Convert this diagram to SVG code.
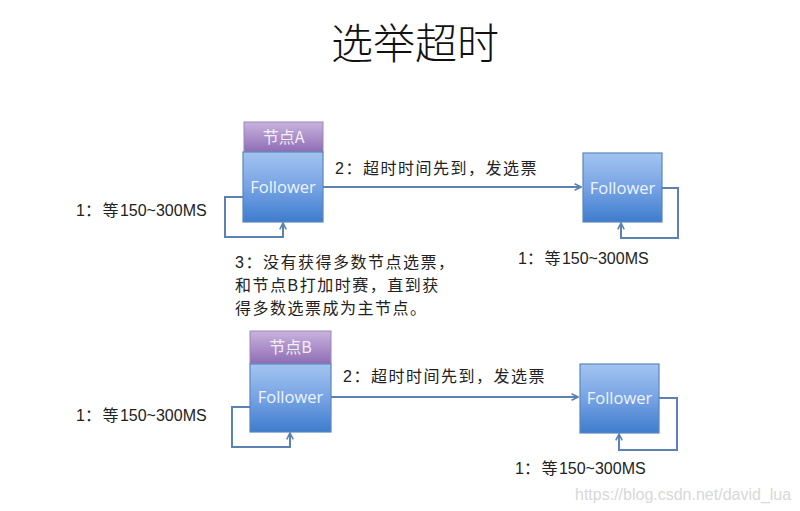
<svg xmlns="http://www.w3.org/2000/svg" width="800" height="511" viewBox="0 0 800 511">
<defs>
<linearGradient id="gBlue" x1="0" y1="0" x2="0" y2="1">
<stop offset="0" stop-color="#a3c4f0"/>
<stop offset="0.5" stop-color="#77a3e4"/>
<stop offset="1" stop-color="#3e7ccd"/>
</linearGradient>
<linearGradient id="gPurple" x1="0" y1="0" x2="0" y2="1">
<stop offset="0" stop-color="#c9b3de"/>
<stop offset="1" stop-color="#8e6cb4"/>
</linearGradient>
<marker id="arr" viewBox="0 0 10 10" refX="9" refY="5" markerWidth="8" markerHeight="8" markerUnits="userSpaceOnUse" orient="auto">
<path d="M1,1 L9,5 L1,9" fill="none" stroke="#5b82b3" stroke-width="2"/>
</marker>
</defs>
<style>
.txt{font-family:"Liberation Sans","Noto Sans CJK SC",sans-serif;fill:#222;font-size:16px}
.cj{letter-spacing:1.5px}
.title{font-family:"Noto Sans CJK SC",sans-serif;font-size:42px;font-weight:300;fill:#111}
.fol{fill:url(#gBlue);stroke:#5a86bd;stroke-width:1.2}
.hdr{fill:url(#gPurple);stroke:#9a86b8;stroke-width:1}
.ftxt{font-family:"Open Sans","Liberation Sans",sans-serif;font-size:16.5px;fill:#eef4ff;text-anchor:middle}
.htxt{font-family:"Noto Sans CJK SC",sans-serif;font-size:16px;fill:#f4eefa;text-anchor:middle}
.con{fill:none;stroke:#5b82b3;stroke-width:2;marker-end:url(#arr)}
.wm{font-family:"Liberation Sans",sans-serif;font-size:16px;fill:#d8d8d8}
</style>
<rect width="800" height="511" fill="#fff"/>
<text class="title" x="415" y="59" text-anchor="middle">选举超时</text>

<g id="nodeA">
<rect class="hdr" x="244" y="122" width="79" height="30"/>
<text class="htxt" x="283.5" y="143">节点A</text>
<rect class="fol" x="243" y="152" width="80" height="70"/>
<text class="ftxt" x="283" y="193">Follower</text>
</g>
<g id="nodeA2">
<rect class="fol" x="583" y="153" width="79" height="69"/>
<text class="ftxt" x="622.5" y="194">Follower</text>
</g>
<g id="nodeB">
<rect class="hdr" x="250" y="331" width="81" height="33"/>
<text class="htxt" x="290.5" y="353">节点B</text>
<rect class="fol" x="250" y="364" width="81" height="68"/>
<text class="ftxt" x="290.5" y="403">Follower</text>
</g>
<g id="nodeB2">
<rect class="fol" x="580" y="364" width="79" height="69"/>
<text class="ftxt" x="619.5" y="404">Follower</text>
</g>

<g id="connectors">
<path class="con" d="M323,187 L581,187"/>
<path class="con" d="M243,197 L225,197 L225,237 L283,237 L283,223"/>
<path class="con" d="M662,188 L678,188 L678,238 L621,238 L621,223"/>
<path class="con" d="M331,397 L578,397"/>
<path class="con" d="M250,407 L232,407 L232,447 L290,447 L290,433"/>
<path class="con" d="M659,398 L677,398 L677,450 L619,450 L619,434"/>
</g>

<text class="txt cj" x="335" y="174">2：超时时间先到，发选票</text>
<text class="txt" x="76" y="216">1<tspan class="cj">：等</tspan>150~300MS</text>
<text class="txt" x="518" y="264">1<tspan class="cj">：等</tspan>150~300MS</text>
<text class="txt cj" x="235" y="268">3：没有获得多数节点选票，</text>
<text class="txt cj" x="235" y="291">和节点B打加时赛，直到获</text>
<text class="txt cj" x="235" y="314">得多数选票成为主节点。</text>
<text class="txt cj" x="343" y="382">2：超时时间先到，发选票</text>
<text class="txt" x="76" y="421">1<tspan class="cj">：等</tspan>150~300MS</text>
<text class="txt" x="515" y="474">1<tspan class="cj">：等</tspan>150~300MS</text>
<text class="wm" x="575" y="500">https://blog.csdn.net/david_lua</text>
</svg>
